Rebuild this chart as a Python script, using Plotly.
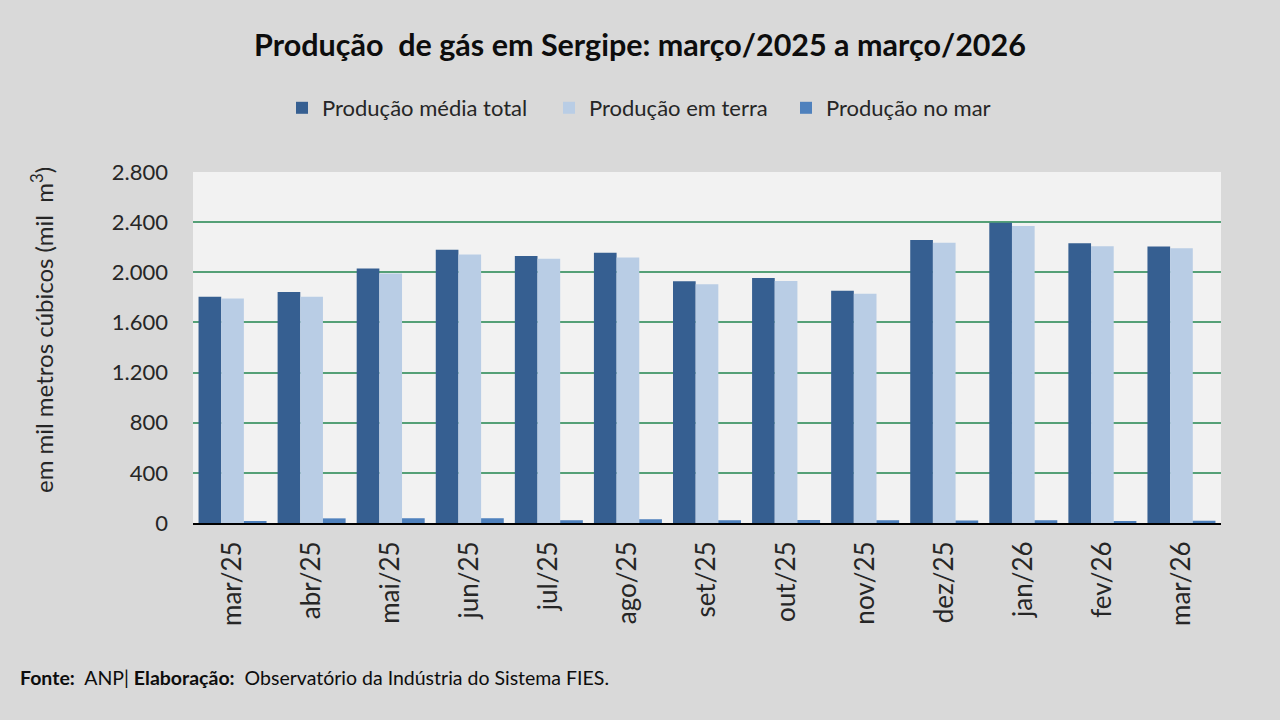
import plotly.graph_objects as go

# Produção de gás em Sergipe, em mil m³
meses = ["mar/25", "abr/25", "mai/25", "jun/25", "jul/25", "ago/25", "set/25",
         "out/25", "nov/25", "dez/25", "jan/26", "fev/26", "mar/26"]
producao_total = [1805, 1842, 2030, 2180, 2130, 2155, 1928, 1955, 1852, 2257, 2395, 2232, 2205]
producao_terra = [1790, 1805, 1990, 2142, 2107, 2118, 1905, 1930, 1828, 2235, 2370, 2208, 2192]
producao_mar = [12, 37, 38, 38, 22, 30, 22, 24, 22, 20, 22, 12, 18]

FONT = "Lato"
W, H = 1280, 720

fig = go.Figure()
fig.add_trace(go.Bar(x=meses, y=producao_total, name="Produção média total",
                     marker=dict(color="#365F91", line=dict(width=0)), legend="legend"))
fig.add_trace(go.Bar(x=meses, y=producao_terra, name="Produção em terra",
                     marker=dict(color="#B9CDE5", line=dict(width=0)), legend="legend2"))
fig.add_trace(go.Bar(x=meses, y=producao_mar, name="Produção no mar",
                     marker=dict(color="#4F81BD", line=dict(width=0)), legend="legend3"))


def legenda(x_px):
    # uma legenda por série, para imitar o espaçamento do original
    return dict(
        orientation="h",
        x=x_px / W, xanchor="left", xref="container",
        y=1 - 108 / H, yanchor="middle", yref="container",
        font=dict(family=FONT, size=22, color="#262626"),
        bgcolor="rgba(0,0,0,0)",
        itemwidth=30,
    )


fig.update_layout(
    width=W,
    height=H,
    paper_bgcolor="#D9D9D9",
    plot_bgcolor="#F2F2F2",
    font=dict(family=FONT, color="#262626", size=20),
    separators=",.",
    barmode="group",
    bargap=0.14,
    bargroupgap=0,
    margin=dict(l=193, r=59, t=172, b=197),
    title=dict(
        text="<b>Produção  de gás em Sergipe: março/2025 a março/2026</b>",
        x=0.5, xanchor="center", xref="container",
        y=1 - 45 / H, yanchor="middle", yref="container",
        font=dict(family=FONT, size=30.5, color="#0D0D0D"),
    ),
    legend=legenda(282),
    legend2=legenda(549),
    legend3=legenda(786),
    showlegend=True,
)

fig.update_xaxes(
    tickangle=-90,
    showgrid=False,
    showline=True,
    linecolor="#000000",
    linewidth=2,
    ticks="",
    ticklabelstandoff=6,
    tickfont=dict(size=26, color="#262626"),
)
fig.update_yaxes(
    range=[0, 2800],
    dtick=400,
    tickformat=",d",
    showgrid=True,
    gridcolor="#55A077",
    gridwidth=2,
    zeroline=False,
    showline=False,
    ticks="",
    ticklabelstandoff=24,
    tickfont=dict(size=22, color="#262626"),
)

plot_w = W - 193 - 59
plot_h = H - 172 - 197

fig.add_annotation(
    text="em mil metros cúbicos (mil  m<sup>3</sup>)",
    textangle=-90,
    x=(42 - 193) / plot_w, xref="paper", xanchor="center",
    y=(523 - 330) / plot_h, yref="paper", yanchor="middle",
    showarrow=False,
    font=dict(size=24, color="#262626"),
)

fig.add_annotation(
    text="<b>Fonte:</b>  ANP| <b>Elaboração:</b>  Observatório da Indústria do Sistema FIES.",
    x=(18 - 193) / plot_w, xref="paper", xanchor="left",
    y=(523 - 677) / plot_h, yref="paper", yanchor="middle",
    showarrow=False,
    font=dict(size=19.5, color="#0D0D0D"),
)

fig.write_html("out.html", config={"displayModeBar": False},
               post_script="document.body.style.margin='0';")
